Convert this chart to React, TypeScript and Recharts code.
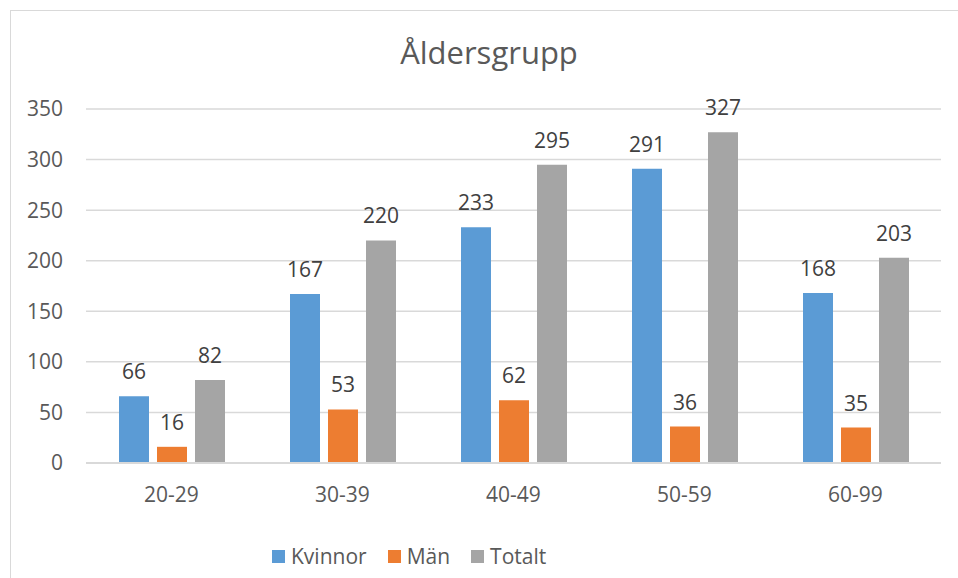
import { BarChart, Bar, XAxis, YAxis, CartesianGrid, Legend, LabelList } from 'recharts';

const groups = ['20-29', '30-39', '40-49', '50-59', '60-99'];
const kvinnor = [66, 167, 233, 291, 168];
const man = [16, 53, 62, 36, 35];
const totalt = [82, 220, 295, 327, 203];
const yTicks = [0, 50, 100, 150, 200, 250, 300, 350];

const data = groups.map((g, i) => ({
  name: g,
  Kvinnor: kvinnor[i],
  Män: man[i],
  Totalt: totalt[i],
}));

const FONT = '"Open Sans", sans-serif';

const series = [
  { key: 'Kvinnor', color: '#5B9BD5' },
  { key: 'Män', color: '#ED7D31' },
  { key: 'Totalt', color: '#A5A5A5' },
];

const LegendBox = () => (
  <div style={{ display: 'flex', alignItems: 'center', height: 30, paddingLeft: 272, fontFamily: FONT, fontSize: 21, color: '#595959' }}>
    {series.map((s) => (
      <div key={s.key} style={{ display: 'flex', alignItems: 'center', marginRight: 21 }}>
        <span style={{ width: 13, height: 13, background: s.color, marginRight: 6, display: 'inline-block' }} />
        <span>{s.key}</span>
      </div>
    ))}
  </div>
);

const App = () => {
  return (
    <div style={{ position: 'absolute', left: 0, top: 0, width: 958, height: 578, background: '#fff', overflow: 'hidden' }}>
      <div style={{ position: 'absolute', left: 10, top: 10, width: 1000, height: 1000, borderLeft: '1px solid #D9D9D9', borderTop: '1px solid #D9D9D9' }} />
      <div style={{ position: 'absolute', left: 0, top: 31, width: 978, textAlign: 'center', fontFamily: FONT, fontSize: 31, color: '#595959' }}>
        Åldersgrupp
      </div>
      <div style={{ position: 'absolute', left: 0, top: 0 }}>
        <BarChart
          width={958}
          height={578}
          data={data}
          margin={{ top: 109, right: 17, left: 0, bottom: 25 }}
          barSize={30}
          barGap={8}
        >
          <CartesianGrid vertical={false} stroke="#D9D9D9" strokeWidth={1.5} />
          <XAxis
            dataKey="name"
            height={60}
            tickSize={0}
            tickMargin={24}
            axisLine={{ stroke: '#D9D9D9', strokeWidth: 2 }}
            tick={{ fill: '#595959', fontSize: 21, fontFamily: FONT }}
          />
          <YAxis
            width={86}
            domain={[0, 350]}
            ticks={yTicks}
            tickSize={0}
            tickMargin={23}
            axisLine={false}
            tick={{ fill: '#595959', fontSize: 21, fontFamily: FONT }}
          />
          <Legend
            verticalAlign="bottom"
            content={<LegendBox />}
            wrapperStyle={{ top: 541, left: 0, width: 958, height: 30 }}
          />
          {series.map((s) => (
            <Bar key={s.key} dataKey={s.key} fill={s.color} isAnimationActive={false}>
              <LabelList dataKey={s.key} position="top" offset={17} fill="#404040" fontSize={21} fontFamily={FONT} />
            </Bar>
          ))}
        </BarChart>
      </div>
    </div>
  );
};

export default App;
